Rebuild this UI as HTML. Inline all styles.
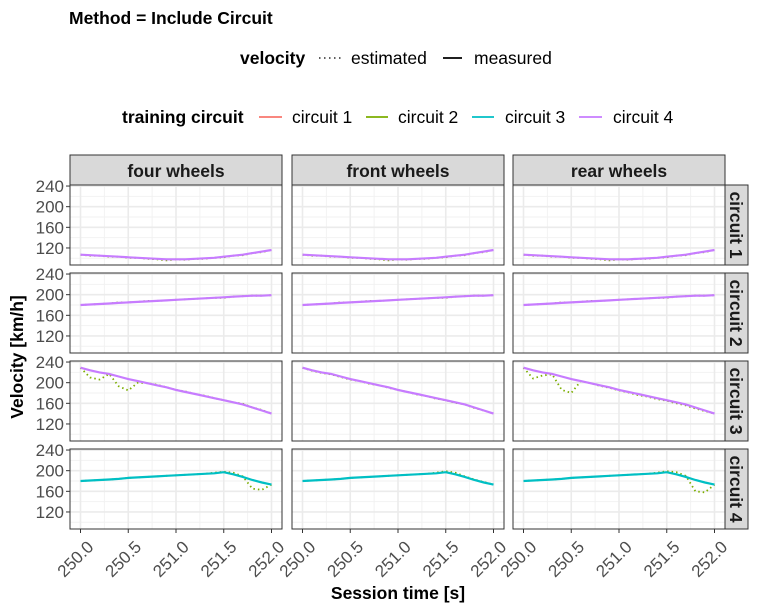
<!DOCTYPE html>
<html><head><meta charset="utf-8">
<style>
html,body{margin:0;padding:0;background:#fff;}
svg{display:block;font-family:"Liberation Sans",Arial,sans-serif;}
</style></head>
<body>
<svg id="chart" width="769" height="612" viewBox="0 0 769 612" xmlns="http://www.w3.org/2000/svg">
<text x="69" y="24" font-size="17.5" font-weight="bold" fill="#000">Method = Include Circuit</text>
<g>
<text x="240" y="64" font-size="17.5" font-weight="bold">velocity</text>
<line x1="319" y1="58" x2="342" y2="58" stroke="#000" stroke-width="1.2" stroke-dasharray="1.5,3.5"/>
<text x="351" y="64" font-size="17.5">estimated</text>
<line x1="443" y1="58" x2="462" y2="58" stroke="#000" stroke-width="1.8"/>
<text x="474" y="64" font-size="17.5">measured</text>
</g>
<g>
<text x="122" y="123" font-size="17.5" font-weight="bold">training circuit</text>
<line x1="259" y1="117" x2="282" y2="117" stroke="#F8766D" stroke-width="1.8"/>
<text x="292" y="123" font-size="17.5">circuit 1</text>
<line x1="366" y1="117" x2="388" y2="117" stroke="#7CAE00" stroke-width="1.8"/>
<text x="398" y="123" font-size="17.5">circuit 2</text>
<line x1="472" y1="117" x2="494" y2="117" stroke="#00BFC4" stroke-width="1.8"/>
<text x="505" y="123" font-size="17.5">circuit 3</text>
<line x1="579" y1="117" x2="602" y2="117" stroke="#C77CFF" stroke-width="1.8"/>
<text x="613" y="123" font-size="17.5">circuit 4</text>
</g>
<text transform="translate(23,357) rotate(-90)" text-anchor="middle" font-size="17.5" font-weight="bold">Velocity [km/h]</text>
<text x="398" y="599" text-anchor="middle" font-size="17.5" font-weight="bold">Session time [s]</text>
<g id="panels"></g>
</svg>
<script>
const times = [250.0,250.1,250.2,250.3,250.4,250.5,250.6,250.7,250.8,250.9,251.0,251.1,251.2,251.3,251.4,251.5,251.6,251.7,251.8,251.9,252.0];
const columns = ["four wheels","front wheels","rear wheels"];
const rows = ["circuit 1","circuit 2","circuit 3","circuit 4"];
const xTicks = [250.0,250.5,251.0,251.5,252.0];
const xTickLabels = ["250.0","250.5","251.0","251.5","252.0"];
const yTicks = [120,160,200,240];
const measuredC1 = [107,106,105,104,103,102,101,100,99,98,98,98,99,100,101,103,105,107,110,113,116];
const measuredC2 = [180,181,182,183,184,185,186,187,188,189,190,191,192,193,194,195,196,197,198,198,199];
const measuredC3 = [229,224,220,217,212,207,203,199,195,191,186,182,178,174,170,166,162,158,152,146,140];
const measuredC4 = [180,181,182,183,184,186,187,188,189,190,191,192,193,194,195,197,193,188,182,177,173];
const measuredColors = ["#C77CFF","#C77CFF","#C77CFF","#00BFC4"];
const estC3Four  = [229,210,206,217,193,185,200,199,196,191,186,183,178,175,170,166,162,159,152,147,140];
const estC3Front = [229,223,219,216,211,206,203,198,195,190,186,182,177,174,169,166,161,158,151,146,140];
const estC3Rear  = [229,208,214,216,186,180,203,199,194,190,185,181,176,173,168,165,160,156,150,145,140];
const estC4Four  = [180,181,182,183,184,186,187,188,189,190,191,192,193,194,196,198,196,189,165,163,173];
const estC4Front = [180,181,182,183,184,186,187,188,189,190,191,192,193,194,196,199,196,189,183,178,173];
const estC4Rear  = [180,181,182,183,184,186,187,188,189,190,191,192,193,194,196,199,197,190,160,158,173];
const estC1 = [107,105,105,103,103,101,101,99,98,96,98,97,99,99,101,102,105,106,110,112,116];
const estC2 = [180,181,182,183,185,185,186,188,188,189,190,191,192,193,194,194,196,197,198,198,199];

const measured = [measuredC1,measuredC2,measuredC3,measuredC4];
const estimated = [[estC1,estC1,estC1],[estC2,estC2,estC2],[estC3Four,estC3Front,estC3Rear],[estC4Four,estC4Front,estC4Rear]];

const NS="http://www.w3.org/2000/svg";
const root=document.getElementById('panels');
const colX=[70,292,513], panelW=212;
const rowY=[185,273,361,449], panelH=80;
const xDom=[249.89,252.11], yDom=[87,242];
function mk(t,a,p){const e=document.createElementNS(NS,t);for(const k in a)e.setAttribute(k,a[k]);(p||root).appendChild(e);return e;}
function sx(c,v){return colX[c]+(v-xDom[0])/(xDom[1]-xDom[0])*panelW;}
function sy(r,v){return rowY[r]+panelH-(v-yDom[0])/(yDom[1]-yDom[0])*panelH;}

columns.forEach((name,c)=>{
  const s=mk('rect',{x:colX[c],y:155,width:panelW,height:30,fill:'#d9d9d9',stroke:'#333','stroke-width':1});
  
  
  const t=mk('text',{x:colX[c]+panelW/2,y:177,'text-anchor':'middle','font-size':17.5,'font-weight':'bold',fill:'#1a1a1a'});
  t.textContent=name;
  
  
});
rows.forEach((name,r)=>{
  const s=mk('rect',{x:725,y:rowY[r],width:23,height:panelH,fill:'#d9d9d9',stroke:'#333','stroke-width':1});
  
  
  const t=mk('text',{transform:`translate(730,${rowY[r]+panelH/2}) rotate(90)`,'text-anchor':'middle','font-size':17.5,'font-weight':'bold',fill:'#1a1a1a'});
  t.textContent=name;
  
  
  yTicks.forEach(v=>{
    const y=sy(r,v);
    const tl=mk('text',{x:64,y:y+6,'text-anchor':'end','font-size':17,fill:'#4d4d4d'});
    tl.textContent=v;
    
    
    mk('line',{x1:66,x2:70,y1:y,y2:y,stroke:'#333','stroke-width':1});
  });
  columns.forEach((cn,c)=>{
    const g=mk('g',{});
    
    
    mk('rect',{x:colX[c],y:rowY[r],width:panelW,height:panelH,fill:'#fff'},g);
    for(let i=0;i<xTicks.length-1;i++){const x=sx(c,(xTicks[i]+xTicks[i+1])/2);mk('line',{x1:x,x2:x,y1:rowY[r],y2:rowY[r]+panelH,stroke:'#f2f2f2','stroke-width':1},g);}
    for(let i=0;i<yTicks.length-1;i++){const y=sy(r,(yTicks[i]+yTicks[i+1])/2);mk('line',{x1:colX[c],x2:colX[c]+panelW,y1:y,y2:y,stroke:'#f2f2f2','stroke-width':1},g);}
    {const y=sy(r,100);mk('line',{x1:colX[c],x2:colX[c]+panelW,y1:y,y2:y,stroke:'#f2f2f2','stroke-width':1},g);}
    xTicks.forEach(v=>{const x=sx(c,v);mk('line',{x1:x,x2:x,y1:rowY[r],y2:rowY[r]+panelH,stroke:'#ebebeb','stroke-width':1.6},g);});
    yTicks.forEach(v=>{const y=sy(r,v);mk('line',{x1:colX[c],x2:colX[c]+panelW,y1:y,y2:y,stroke:'#ebebeb','stroke-width':1.6},g);});
    const est=estimated[r][c];
    const pe=mk('path',{d:est.map((v,i)=>(i?'L':'M')+sx(c,times[i]).toFixed(1)+','+sy(r,v).toFixed(1)).join(''),fill:'none',stroke:'#7CAE00','stroke-width':1.8,'stroke-dasharray':'1.5,3'},g);
    
    
    const m=measured[r];
    const pm=mk('path',{d:m.map((v,i)=>(i?'L':'M')+sx(c,times[i]).toFixed(1)+','+sy(r,v).toFixed(1)).join(''),fill:'none',stroke:measuredColors[r],'stroke-width':2.2},g);
    
    
    mk('rect',{x:colX[c],y:rowY[r],width:panelW,height:panelH,fill:'none',stroke:'#333','stroke-width':1},g);
  });
});
columns.forEach((cn,c)=>{
  xTicks.forEach((v,i)=>{
    const x=sx(c,v);
    mk('line',{x1:x,x2:x,y1:529,y2:533,stroke:'#333','stroke-width':1});
    const t=mk('text',{transform:`translate(${x+14},${548}) rotate(-45)`,'text-anchor':'end','font-size':17,fill:'#4d4d4d'});
    t.textContent=xTickLabels[i];
    
    
  });
});
</script>
</body></html>
